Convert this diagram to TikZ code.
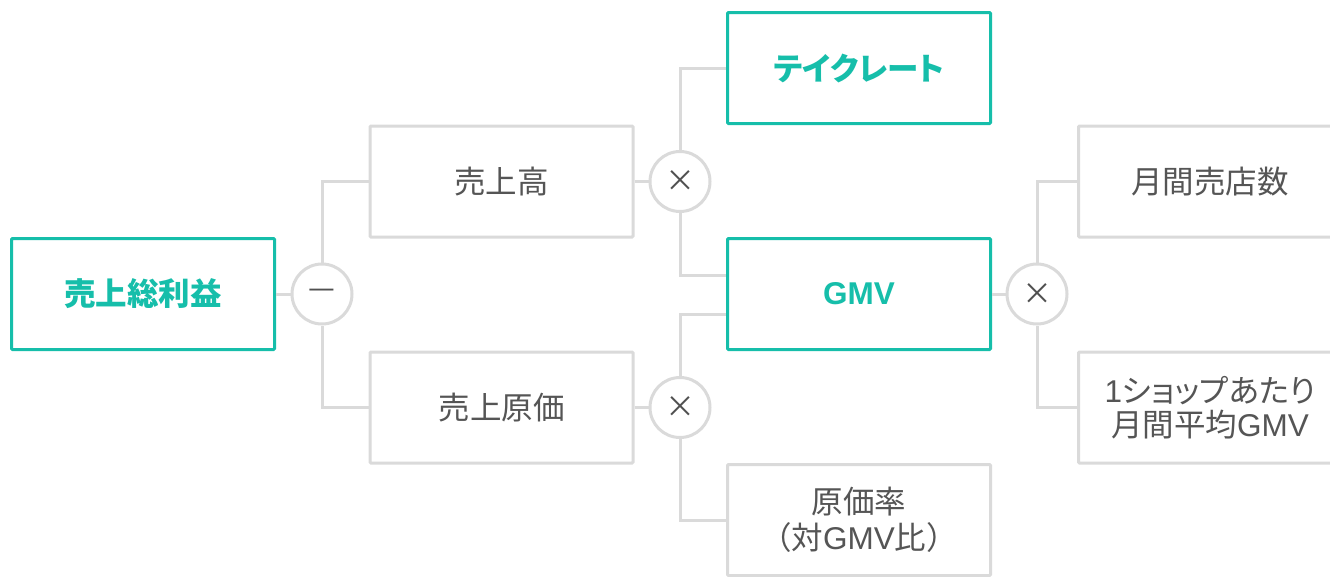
\documentclass[tikz,border=0pt]{standalone}
\usepackage{fontspec}
\setmainfont{Noto Sans CJK JP}
\newfontfamily\pjp[RawFeature=+palt]{Noto Sans CJK JP}
\newfontfamily\lat{Liberation Sans}
\definecolor{teal1}{RGB}{22,190,170}
\definecolor{lgray}{RGB}{218,218,218}
\definecolor{tgray}{RGB}{85,85,85}
\definecolor{opgray}{RGB}{80,80,80}
\tikzset{
  conn/.style={draw=lgray,line width=3pt},
  graybox/.style={draw=lgray,line width=3pt,fill=white,minimum width=263pt,minimum height=111pt,rounded corners=1pt,text=tgray,font=\fontsize{31.5}{36}\selectfont,align=center,inner sep=0pt},
  tealbox/.style={graybox,draw=teal1,text=teal1,font=\fontsize{31.5}{36}\selectfont\bfseries},
  op/.style={circle,draw=lgray,line width=3pt,fill=white,minimum size=60pt,inner sep=0pt,text=opgray,font=\fontsize{30}{30}\selectfont}
}
\begin{document}
\begin{tikzpicture}[x=1pt,y=-1pt]
\useasboundingbox (0,0) rectangle (1330,576);
% nodes
\node[tealbox] (A) at (143,294) {売上総利益};
\node[op] (m) at (322,294) {—};
\node[graybox] (B) at (501.5,181.5) {売上高};
\node[graybox] (C) at (501.5,407.5) {売上原価};
\node[op] (x1) at (680,181.5) {×};
\node[op] (x2) at (680,407.5) {×};
\node[tealbox] (D) at (859,68) {\pjp\bfseries テイクレート};
\node[tealbox] (E) at (859,294) {\lat\bfseries GMV};
\node[graybox] (F) at (859,520) {原価率\\（対{\lat GMV}比）};
\node[op] (x3) at (1037,294) {×};
\node[graybox] (G) at (1210,181.5) {月間売店数};
\node[graybox,font=\fontsize{31.5}{34}\selectfont] (H) at (1210,407.5) {{\lat 1}{\pjp ショップあたり}\\月間平均{\lat GMV}};
% connectors
\draw[conn] (A.east) -- (m.west);
\draw[conn] (m.north) |- (B.west);
\draw[conn] (m.south) |- (C.west);
\draw[conn] (B.east) -- (x1.west);
\draw[conn] (C.east) -- (x2.west);
\draw[conn] (x1.north) |- (D.west);
\draw[conn] (x1.south) |- ([yshift=19pt]E.west);
\draw[conn] (x2.north) |- ([yshift=-20pt]E.west);
\draw[conn] (x2.south) |- (F.west);
\draw[conn] (E.east) -- (x3.west);
\draw[conn] (x3.north) |- (G.west);
\draw[conn] (x3.south) |- (H.west);
\end{tikzpicture}
\end{document}
